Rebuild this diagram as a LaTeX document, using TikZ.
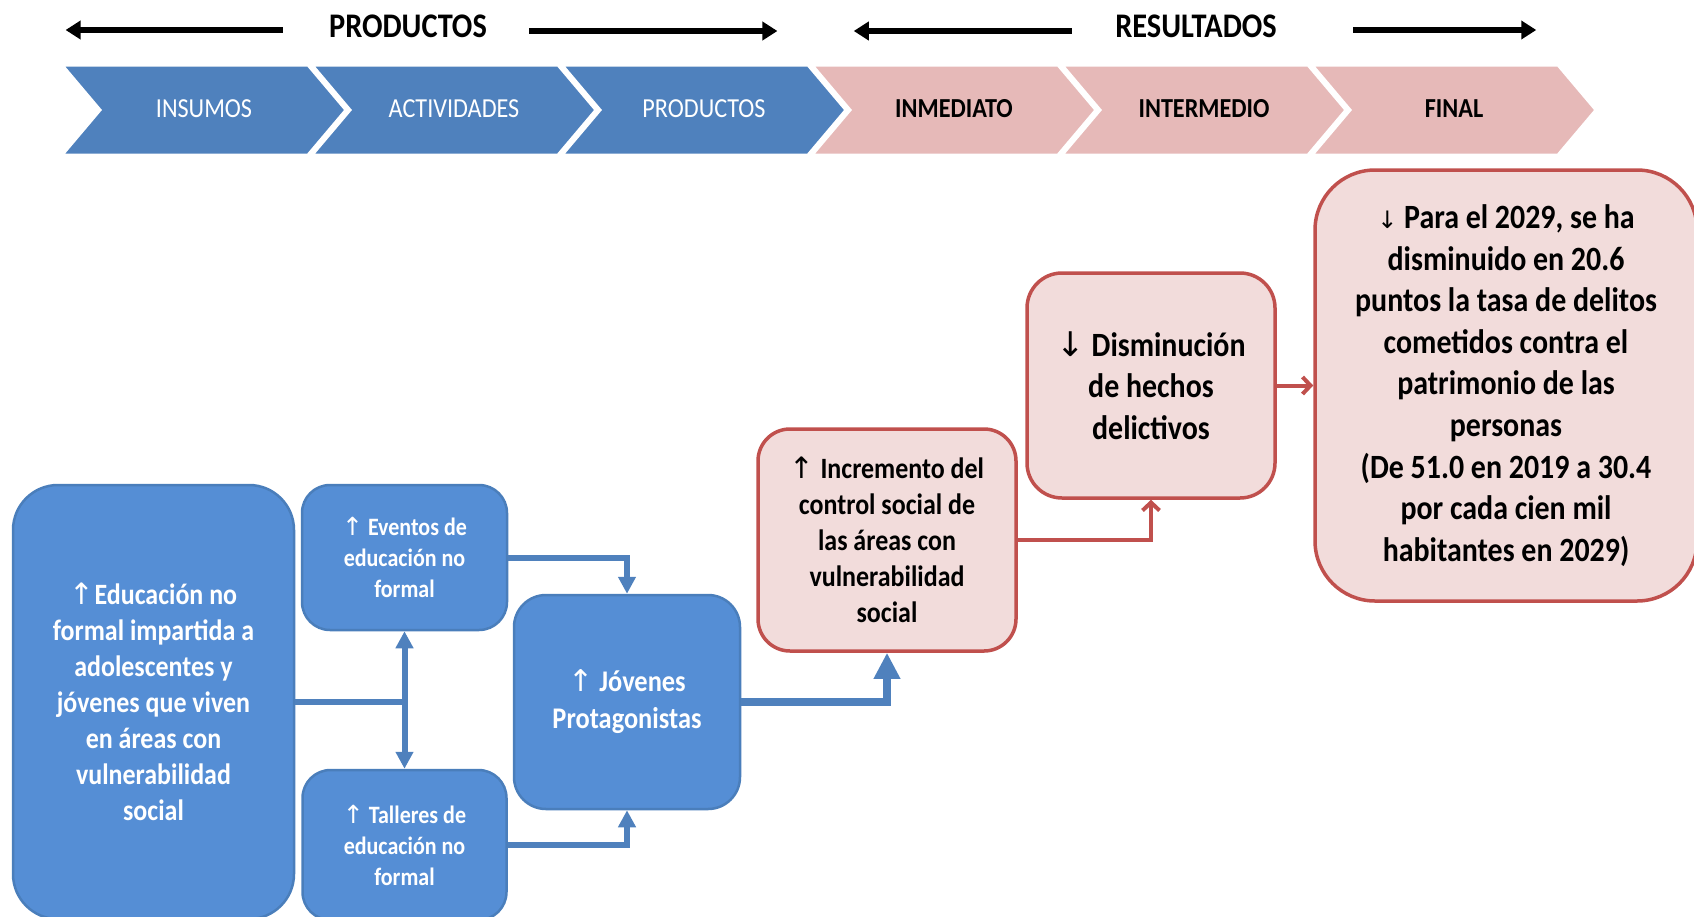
\documentclass[tikz,border=0pt]{standalone}
\usepackage{fontspec}
\setmainfont{Carlito}[FakeStretch=0.88]
\newfontfamily\flechas{DejaVu Sans}
\usetikzlibrary{arrows.meta,positioning}
\definecolor{azulcab}{HTML}{4F81BD}
\definecolor{rosacab}{HTML}{E6B9B8}
\definecolor{azulcaja}{HTML}{558ED5}
\definecolor{bordeazul}{HTML}{4A7EBB}
\definecolor{rosacaja}{HTML}{F2DCDB}
\definecolor{rojo}{HTML}{C0504D}
\newcommand{\sube}{{\flechas\mdseries\char"2191}}
\newcommand{\baja}{{\flechas\mdseries\char"2193}}
\newcommand{\tam}[2]{\fontsize{#1}{#2}\selectfont\bfseries}
\tikzset{caja/.style={rectangle, inner sep=0pt, align=center},
         cajaazul/.style={caja, rounded corners=#1, draw=bordeazul, line width=2.5pt,
            fill=azulcaja, text=white},
         cajaazul/.default=28pt,
         cajaroja/.style={caja, rounded corners=#1, draw=rojo, line width=3.5pt,
            fill=rosacaja, text=black},
         cajaroja/.default=35pt,
         chevron/.style={draw=white, line width=3pt},
         titulo/.style={font={\tam{34.5}{40}}},
         flechanegra/.style={line width=5.5pt, -{Triangle[length=15pt,width=18pt]}},
         lineaazul/.style={draw=azulcab, line width=6pt},
         flechaazul/.style={lineaazul, -{Triangle[length=17pt,width=17pt]}},
         flechagruesa/.style={draw=azulcab, line width=8.5pt, -{Triangle[length=26pt,width=25pt]}},
         flecharoja/.style={draw=rojo, line width=4pt, -{Straight Barb[length=8pt,width=17pt]}}}

\begin{document}
\begin{tikzpicture}[x=1pt, y=-1pt]
\useasboundingbox (0,0) rectangle (1694,916);
\clip (0,0) rectangle (1694,916);
% cabecera
\node[titulo] (tprod) at (408,26) {PRODUCTOS};
\node[titulo] (tres) at (1196,26) {RESULTADOS};
\draw[flechanegra] ([xshift=-43pt,yshift=-4pt]tprod.west) -- ++(-217,0);
\draw[flechanegra] ([xshift=39pt,yshift=-5pt]tprod.east) -- ++(248,0);
\draw[flechanegra] ([xshift=-40pt,yshift=-5pt]tres.west) -- ++(-218,0);
\draw[flechanegra] ([xshift=73pt,yshift=-4pt]tres.east) -- ++(183,0);
% cadena de resultados
\foreach \lab [count=\i from 0] in {INSUMOS,ACTIVIDADES,PRODUCTOS}{
  \filldraw[chevron, fill=azulcab] (62+250*\i,65) -- ++(246,0) -- ++(38,45)
     -- ++(-38,45) -- ++(-246,0) -- ++(38,-45) -- cycle;
  \node[text=white, font=\fontsize{27.5}{32}\selectfont] (ch\i) at (204+250*\i,109) {\lab};
}
\foreach \lab [count=\i from 3] in {INMEDIATO,INTERMEDIO,FINAL}{
  \filldraw[chevron, fill=rosacab] (62+250*\i,65) -- ++(246,0) -- ++(38,45)
     -- ++(-38,45) -- ++(-246,0) -- ++(38,-45) -- cycle;
  \node[text=black, font={\tam{27.5}{32}}] (ch\i) at (204+250*\i,109) {\lab};
}
% cajas
\node[cajaazul=45pt, minimum width=281pt, minimum height=434pt, font={\tam{29.5}{36}}]
  (edu) at (153.5,702) {\sube Educación no\\formal impartida a\\adolescentes y\\jóvenes que viven\\en áreas con\\vulnerabilidad\\social};
\node[cajaazul, minimum width=205pt, minimum height=145pt, font={\tam{25}{31}}]
  (eventos) at (404.5,557.5) {\sube\ Eventos de\\educación no\\formal};
\node[cajaazul, minimum width=204pt, minimum height=150pt, font={\tam{25}{31}}]
  (talleres) at (404.5,845) {\sube\ Talleres de\\educación no\\formal};
\node[cajaazul=32pt, minimum width=226pt, minimum height=214pt, font={\tam{30}{37}}]
  (jovenes) at (627,702) {\sube\ Jóvenes\\Protagonistas};
\node[cajaroja=32pt, minimum width=258pt, minimum height=222pt, font={\tam{29.5}{36}}]
  (incremento) at (887,540) {\sube\ Incremento del\\control social de\\las áreas con\\vulnerabilidad\\social};
\node[cajaroja, minimum width=248pt, minimum height=225pt, font={\tam{34}{41.6}}]
  (disminucion) at (1151,385.5) {\baja\ Disminución\\de hechos\\delictivos};
\node[cajaroja=60pt, minimum width=382pt, minimum height=431pt, font={\tam{34}{41.6}}]
  (final) at (1506,385.5) {{\flechas\mdseries\fontsize{24}{30}\selectfont\char"2193} Para el 2029, se ha\\disminuido en 20.6\\puntos la tasa de delitos\\cometidos contra el\\patrimonio de las\\personas\\(De 51.0 en 2019 a 30.4\\por cada cien mil\\habitantes en 2029)};
% conectores
\draw[lineaazul] (edu.east) -- (edu.east -| eventos.south);
\draw[lineaazul, {Triangle[length=17pt,width=17pt]}-{Triangle[length=17pt,width=17pt]}]
  (eventos.south) -- (talleres.north);
\draw[flechaazul] (eventos.east) -| (jovenes.north);
\draw[flechaazul] (talleres.east) -| (jovenes.south);
\draw[flechagruesa] (jovenes.east) -| (incremento.south);
\draw[flecharoja] (incremento.east) -| (disminucion.south);
\draw[flecharoja] (disminucion.east) -- (final.west);
\end{tikzpicture}
\end{document}
